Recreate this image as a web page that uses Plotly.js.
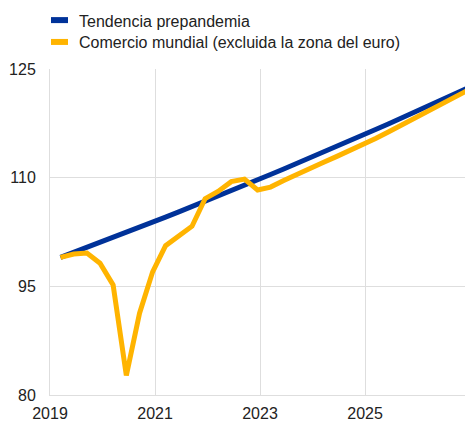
<!DOCTYPE html>
<html>
<head>
<meta charset="utf-8">
<script src="https://cdn.plot.ly/plotly-3.0.1.min.js"></script>
<style>html,body{margin:0;padding:0;background:#fff;}#chart{width:465px;height:421px;}</style>
</head>
<body>
<div id="chart"></div>
<script>
const quarters = [
  "2019-03-15","2019-06-15","2019-09-15","2019-12-15",
  "2020-03-15","2020-06-15","2020-09-15","2020-12-15",
  "2021-03-15","2021-06-15","2021-09-15","2021-12-15",
  "2022-03-15","2022-06-15","2022-09-15","2022-12-15",
  "2023-03-15","2023-06-15","2023-09-15","2023-12-15",
  "2024-03-15","2024-06-15","2024-09-15","2024-12-15",
  "2025-03-15","2025-06-15","2025-09-15","2025-12-15",
  "2026-03-15","2026-06-15","2026-09-15","2026-12-15"
];

const trendName = "Tendencia prepandemia";
const tradeName = "Comercio mundial (excluida la zona del euro)";

const trend = [
  99.0, 99.68, 100.36, 101.05,
  101.74, 102.44, 103.14, 103.85,
  104.56, 105.28, 106.00, 106.73,
  107.46, 108.20, 108.94, 109.69,
  110.44, 111.20, 111.96, 112.73,
  113.50, 114.28, 115.06, 115.85,
  116.64, 117.44, 118.25, 119.06,
  119.88, 120.70, 121.53, 122.36
];

const trade = [
  99.0, 99.45, 99.6, 98.2,
  95.2, 82.7, 91.3, 97.0,
  100.6, 101.9, 103.3, 107.1,
  108.1, 109.45, 109.8, 108.3,
  108.7, 109.6, 110.5, 111.3,
  112.1, 112.9, 113.7, 114.5,
  115.4, 116.35, 117.3, 118.25,
  119.2, 120.15, 121.1, 122.05
];

const xTickVals = ["2019-01-01", "2021-01-01", "2023-01-01", "2025-01-01"];
const xTickText = ["2019", "2021", "2023", "2025"];
const yTickVals = [80, 95, 110, 125];

const series = [
  {name: trendName, y: trend, color: "#003299"},
  {name: tradeName, y: trade, color: "#ffb400"}
];

const data = series.map(s => ({
  x: quarters, y: s.y, name: s.name, type: "scatter", mode: "lines",
  line: {color: s.color, width: 5}, showlegend: false
}));

// Legend drawn as short bars + text in paper coordinates
const legendY = [1.150, 1.083];
const shapes = series.map((s, i) => ({
  type: "line", xref: "paper", yref: "paper",
  x0: 0.0024, x1: 0.0434, y0: legendY[i], y1: legendY[i],
  line: {color: s.color, width: 6}
}));
const annotations = series.map((s, i) => ({
  xref: "paper", yref: "paper", x: 0.065, y: legendY[i] - 0.003,
  xanchor: "left", yanchor: "middle", showarrow: false,
  text: s.name, font: {size: 16, color: "#222"}
}));

const layout = {
  width: 465, height: 421,
  margin: {l: 50, r: 0, t: 69, b: 26, pad: 0},
  paper_bgcolor: "#fff", plot_bgcolor: "#fff",
  font: {family: "Liberation Sans, Arial, sans-serif", size: 16, color: "#222"},
  showlegend: false,
  shapes: shapes,
  annotations: annotations,
  xaxis: {type: "date", range: ["2019-01-01", "2026-11-27"],
          tickvals: xTickVals, ticktext: xTickText, showgrid: true, gridcolor: "#dedede", gridwidth: 1,
          showline: true, linecolor: "#dedede", linewidth: 1, zeroline: false,
          ticks: "", ticklabelstandoff: 4, fixedrange: true},
  yaxis: {range: [80, 125], tickvals: yTickVals, showgrid: true, gridcolor: "#dedede", gridwidth: 1,
          showline: true, linecolor: "#dedede", linewidth: 1, zeroline: false,
          ticks: "", ticklabelstandoff: 10, fixedrange: true}
};

Plotly.newPlot("chart", data, layout, {displayModeBar: false, staticPlot: true});
</script>
</body>
</html>
